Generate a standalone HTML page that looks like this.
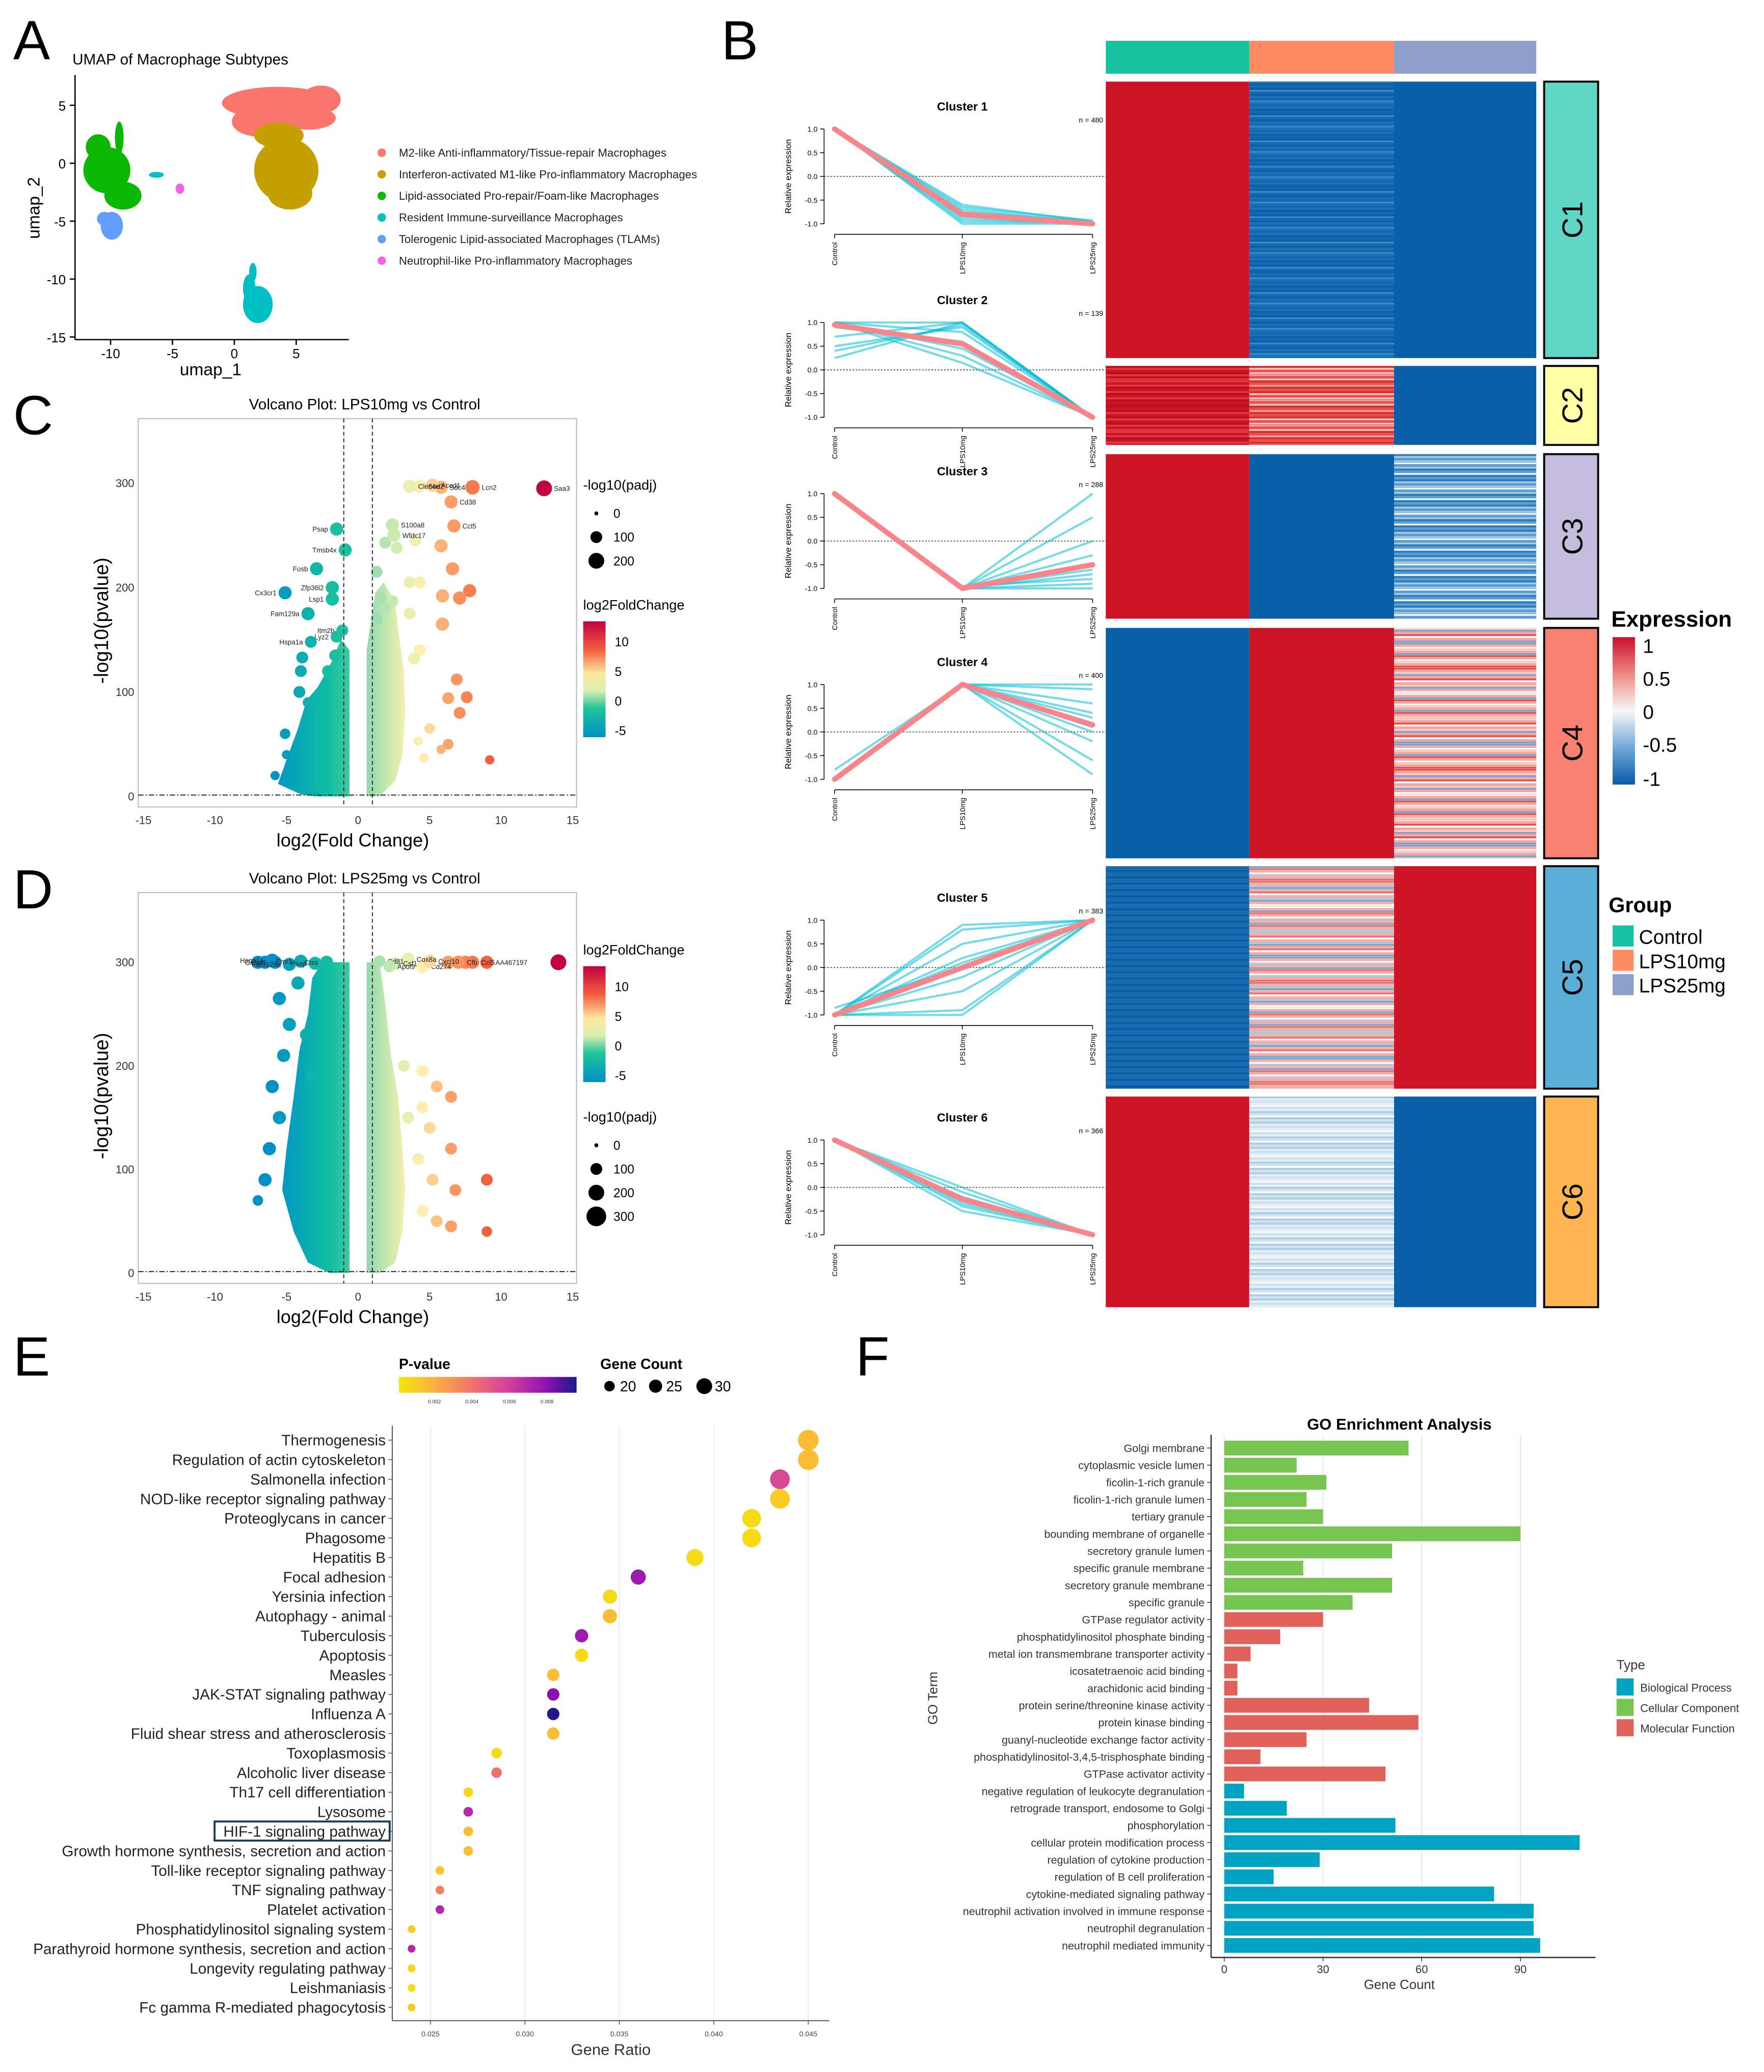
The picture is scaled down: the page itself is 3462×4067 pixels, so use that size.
<!DOCTYPE html>
<html><head><meta charset="utf-8">
<style>
body{margin:0;background:#fff}
svg{display:block}
text{font-family:"Liberation Sans",Arial,sans-serif}
</style></head>
<body>
<svg id="fig" width="3462" height="4067" viewBox="0 0 1340 1574" preserveAspectRatio="none" xmlns="http://www.w3.org/2000/svg">
<defs>
<linearGradient id="gExpr" x1="0" y1="0" x2="0" y2="1">
<stop offset="0" stop-color="#c8102e"/><stop offset="0.25" stop-color="#ee8a80"/><stop offset="0.5" stop-color="#f8f8f8"/><stop offset="0.75" stop-color="#70a8d8"/><stop offset="1" stop-color="#0a5aa8"/>
</linearGradient>
<linearGradient id="gLfc" x1="0" y1="0" x2="0" y2="1">
<stop offset="0" stop-color="#c00040"/><stop offset="0.25" stop-color="#f46040"/><stop offset="0.45" stop-color="#fde8a0"/><stop offset="0.6" stop-color="#d8f0b0"/><stop offset="0.75" stop-color="#20c49a"/><stop offset="1" stop-color="#0090c8"/>
</linearGradient>
<linearGradient id="gP" x1="0" y1="0" x2="1" y2="0">
<stop offset="0" stop-color="#f5e50a"/><stop offset="0.2" stop-color="#fbb040"/><stop offset="0.42" stop-color="#f07070"/><stop offset="0.63" stop-color="#d03ca0"/><stop offset="0.84" stop-color="#8a10b0"/><stop offset="1" stop-color="#1a1a8a"/>
</linearGradient>
</defs>
<g id="root"></g>
</svg>
<script>
// ===== DATA =====
const umapNames=['M2-like Anti-inflammatory/Tissue-repair Macrophages','Interferon-activated M1-like Pro-inflammatory Macrophages','Lipid-associated Pro-repair/Foam-like Macrophages','Resident Immune-surveillance Macrophages','Tolerogenic Lipid-associated Macrophages (TLAMs)','Neutrophil-like Pro-inflammatory Macrophages'];
const umapColors=['#f8766d','#c4a000','#0cb702','#00bfc4','#619cff','#f564e3'];
const umapBlobs=[
 [[3.5,5.2,4.5,1.4],[7,5.5,1.6,1.2],[2,3.6,2.2,1.3],[6,3.9,2.2,1.0]],
 [[4.2,-0.6,2.6,2.8],[3.6,2.4,2.0,1.1],[4.5,-2.6,1.8,1.4]],
 [[-10.3,-0.6,1.9,2.0],[-9,-2.8,1.5,1.2],[-11,1.4,1.0,1.1],[-9.3,2.2,0.35,1.4]],
 [[1.9,-12.2,1.2,1.6],[1.2,-10.8,0.5,1.2],[1.5,-9.4,0.3,0.8],[-6.3,-1.0,0.6,0.25]],
 [[-9.9,-5.4,0.9,1.2],[-10.5,-4.8,0.6,0.6]],
 [[-4.4,-2.2,0.35,0.45]]
];
const umapXTicks=[-10,-5,0,5];
const umapYTicks=[5,0,-5,-10,-15];

const lpGroups=['Control','LPS10mg','LPS25mg'];
const lpN=[480,139,288,400,383,366];
const lpMean=[[1,-0.8,-1],[0.95,0.55,-1],[1,-1,-0.5],[-1,1,0.15],[-1,0,1],[1,-0.25,-1]];
const lpLines=[
 [[1,-0.6,-0.95],[1,-0.65,-0.93],[1,-0.7,-0.97],[1,-0.75,-0.96],[1,-0.85,-1],[1,-0.9,-0.99],[1,-0.95,-0.98],[1,-1,-1]],
 [[1,1,-1],[1,0.8,-1],[0.9,0.6,-1],[0.25,1,-1],[0.5,0.9,-1],[1,0.15,-1],[1,0.3,-1],[0.7,1,-1],[1,0.45,-1],[0.4,0.95,-1]],
 [[1,-1,0],[1,-1,1],[1,-1,-0.3],[1,-1,-0.7],[1,-1,-1],[1,-1,0.5],[1,-1,-0.5],[1,-0.95,-0.8],[1,-1,-0.9],[1,-1,-0.6]],
 [[-1,1,1],[-1,1,0.6],[-1,1,0.3],[-1,1,-0.2],[-1,1,-0.6],[-0.8,1,0],[-1,1,0.9],[-1,1,-0.9],[-1,1,0.1],[-1,1,0.4]],
 [[-1,0.8,1],[-1,0.5,1],[-1,0.2,1],[-1,-0.2,1],[-1,-0.5,1],[-1,-0.9,1],[-0.85,0,1],[-1,-1,1],[-1,0.9,1],[-1,0.1,1]],
 [[1,0,-1],[1,-0.1,-1],[1,-0.3,-1],[1,-0.5,-1],[1,-0.2,-1],[1,-0.4,-1],[1,-0.35,-1]]
];
const lpTop=[98,245,375,520,699,866];

const hmRows=[[62,272],[278,338],[345,470],[477,652],[658,827],[833,993]];
const hmCells=[
 [['#cc1426'],['#1668b0','#3a8cc4','#1f72b5','#0a60a8'],['#0a60a8']],
 [['#cc1426','#e04040','#b8101e'],['#e85050','#f4a0a0','#d03030','#fcd0c8'],['#0a60a8']],
 [['#cc1426'],['#0a60a8'],['#5a9ed0','#ffffff','#2a78b8','#a8cce4']],
 [['#0a60a8'],['#cc1426'],['#f4a6a0','#ffffff','#e05050','#6aa8d8','#fbd4d0']],
 [['#0a60a8','#2070b0'],['#f4b0a8','#a8cce4','#ffffff','#e87070','#6ea8d6'],['#cc1426']],
 [['#cc1426'],['#cfe2f0','#ffffff','#a8cce4','#e8f0f8'],['#0a60a8']]
];
const hmClusterNames=['C1','C2','C3','C4','C5','C6'];
const hmClusterColors=['#5fd6c6','#ffffa6','#c4bcdc','#fa8072','#5aafd8','#ffb452'];
const groupColors=['#17c2a2','#fc8d62','#8da0cb'];

const volCLabeled=[['Saa3',13,295,6],['Lcn2',8,296,5.5],['Sdc4',5.8,296,5],['Acod1',5.2,298,5],['Sod2',4.3,297,5],['Clec4e',3.6,297,5],['Cd38',6.5,282,5],['Ccl5',6.7,259,5],['S100a8',2.4,260,5],['Wfdc17',2.5,250,5],['Psap',-1.5,256,5],['Tmsb4x',-0.9,236,5],['Fosb',-2.9,218,5],['Zfp36l2',-1.8,200,5],['Cx3cr1',-5.1,195,5],['Lsp1',-1.8,189,5],['Fam129a',-3.5,175,5],['Itm2b',-1.1,159,4.5],['Lyz2',-1.5,153,4.5],['Hspa1a',-3.3,148,4.5]];
const volCPoints=[[5.8,240,5],[4,245,4.5],[2.7,238,4.5],[1.9,243,4.5],[6.6,218,5],[7.8,197,5],[4.3,205,4.5],[3.6,205,4.5],[5.9,192,5],[7.1,190,5],[3.6,175,4.5],[5.9,165,5],[4.3,140,4.5],[3.9,132,4.5],[6.9,112,4.5],[7.6,95,4.5],[6.3,94,4.5],[7.1,80,4.5],[5,65,4],[6.3,50,4],[9.2,35,3.5],[5.8,45,3.5],[4.6,37,3.5],[4.2,53,3.5],[-3.9,133,4.5],[-4,120,4.5],[-4.1,100,4.5],[-3.5,90,4],[-5.1,60,4],[-5,40,3.5],[-5.8,20,3.5],[-4.4,40,3.5],[-2.1,120,4.5],[-1.6,135,4.5],[1.3,170,4.5],[1.6,190,4.5],[1.3,215,4.5],[2.4,187,4.5],[1.9,180,4.5]];
const volCLeft=[[-0.6,0],[-0.6,140],[-1.2,150],[-1.8,130],[-2.8,105],[-3.6,92],[-4.2,65],[-5,35],[-5.6,12],[-4,2],[-3,0]];
const volCRight=[[0.6,0],[0.6,140],[1.2,195],[1.8,205],[2.6,185],[2.8,160],[3.2,120],[3.3,80],[3.1,40],[2.6,15],[1.5,0]];
const volDLabeled=[['AA467197',9,300,5],['Ccl5',8,300,5],['Cfb',7,300,5],['Cd274',4.5,296,5],['Cxcl10',5,301,5],['Cox8a',3.5,303,5],['Csf1',2.6,299,4.5],['Cd81',1.5,301,4.5],['Apol9',2.2,296,4.5],['Cx3cr1',-5.8,300,5],['Hspa1a',-6,302,5],['Fam129a',-4.8,298,5],['Emr1',-4,301,5],['Psap',-3,299,5],['Ctss',-2.2,300,5]];
const volDPoints=[[14,300,6],[7.5,300,5],[6.3,300,5],[3.2,200,4.5],[4.5,195,4.5],[5.5,180,4.5],[6.5,170,4.5],[4.5,160,4.5],[3.5,150,4.5],[5,140,4.5],[6.5,120,4.5],[4.2,110,4.5],[9,90,4.5],[5.2,90,4.5],[6.8,80,4.5],[4.5,60,4.5],[5.5,50,4.5],[6.5,45,4.5],[9,40,4],[-7,70,4],[-6.5,90,5],[-6.2,120,5],[-5.5,150,5],[-6,180,5],[-5.2,210,5],[-4.8,240,5],[-5.5,265,5],[-4.2,280,5],[-3.6,230,5],[-3.2,190,5],[-7,300,5],[-6.5,300,5]];
const volDLeft=[[-0.6,0],[-0.6,300],[-1.5,300],[-2.5,300],[-3.2,285],[-3.5,250],[-4.1,215],[-4.5,170],[-5,120],[-5.3,80],[-4.5,40],[-3.5,10],[-2,0]];
const volDRight=[[0.6,0],[0.6,300],[1.5,300],[1.9,260],[2.3,210],[2.8,170],[3.1,120],[3.3,80],[3.1,40],[2.6,10],[1.5,0]];
const volXTicks=[-15,-10,-5,0,5,10,15];
const volYTicks=[0,100,200,300];

const keggTerms=['Thermogenesis','Regulation of actin cytoskeleton','Salmonella infection','NOD-like receptor signaling pathway','Proteoglycans in cancer','Phagosome','Hepatitis B','Focal adhesion','Yersinia infection','Autophagy - animal','Tuberculosis','Apoptosis','Measles','JAK-STAT signaling pathway','Influenza A','Fluid shear stress and atherosclerosis','Toxoplasmosis','Alcoholic liver disease','Th17 cell differentiation','Lysosome','HIF-1 signaling pathway','Growth hormone synthesis, secretion and action','Toll-like receptor signaling pathway','TNF signaling pathway','Platelet activation','Phosphatidylinositol signaling system','Parathyroid hormone synthesis, secretion and action','Longevity regulating pathway','Leishmaniasis','Fc gamma R-mediated phagocytosis'];
const keggRatio=[0.045,0.045,0.0435,0.0435,0.042,0.042,0.039,0.036,0.0345,0.0345,0.033,0.033,0.0315,0.0315,0.0315,0.0315,0.0285,0.0285,0.027,0.027,0.027,0.027,0.0255,0.0255,0.0255,0.024,0.024,0.024,0.024,0.024];
const keggP=[0.0015,0.0015,0.0055,0.001,0.0004,0.0004,0.0004,0.0075,0.0004,0.0015,0.0075,0.0004,0.0015,0.008,0.0095,0.0015,0.0004,0.004,0.0006,0.0068,0.0015,0.0015,0.0012,0.0035,0.0068,0.001,0.0068,0.0006,0.0004,0.001];
const keggCount=[31,31,30,30,29,29,27,25,24,24,23,23,22,22,22,22,20,20,19,19,19,19,18,18,18,17,17,17,17,17];
const keggXTicks=[0.025,0.030,0.035,0.040,0.045];

const goTerms=['Golgi membrane','cytoplasmic vesicle lumen','ficolin-1-rich granule','ficolin-1-rich granule lumen','tertiary granule','bounding membrane of organelle','secretory granule lumen','specific granule membrane','secretory granule membrane','specific granule','GTPase regulator activity','phosphatidylinositol phosphate binding','metal ion transmembrane transporter activity','icosatetraenoic acid binding','arachidonic acid binding','protein serine/threonine kinase activity','protein kinase binding','guanyl-nucleotide exchange factor activity','phosphatidylinositol-3,4,5-trisphosphate binding','GTPase activator activity','negative regulation of leukocyte degranulation','retrograde transport, endosome to Golgi','phosphorylation','cellular protein modification process','regulation of cytokine production','regulation of B cell proliferation','cytokine-mediated signaling pathway','neutrophil activation involved in immune response','neutrophil degranulation','neutrophil mediated immunity'];
const goCounts=[56,22,31,25,30,90,51,24,51,39,30,17,8,4,4,44,59,25,11,49,6,19,52,108,29,15,82,94,94,96];
const goType=['CC','CC','CC','CC','CC','CC','CC','CC','CC','CC','MF','MF','MF','MF','MF','MF','MF','MF','MF','MF','BP','BP','BP','BP','BP','BP','BP','BP','BP','BP'];
const goXTicks=[0,30,60,90];

// ===== DRAW =====
const NS='http://www.w3.org/2000/svg';
const root=document.getElementById('root');
function mk(tag,attrs,parent){const e=document.createElementNS(NS,tag);for(const k in attrs)e.setAttribute(k,attrs[k]);(parent||root).appendChild(e);return e;}
function tx(x,y,s,size,opts,parent){const o=Object.assign({x:x,y:y,'font-size':size,fill:'#000'},opts||{});const e=mk('text',o,parent);e.textContent=s;return e;}
function grp(parent){return mk('g',{},parent);}

const letters=[['A',10,45],['B',548,45],['C',10,330],['D',10,690],['E',10,1045],['F',650,1045]];
letters.forEach(function(l){const e=tx(l[1],l[2],l[0],42,{});

});

// ---- Panel A ----
(function(){
const g=grp();


const X=u=>178+9.4*u, Y=v=>124-8.8*v;
let t=tx(55,49,'UMAP of Macrophage Subtypes',11.5,{},g);


mk('line',{x1:57,y1:57,x2:57,y2:258,stroke:'#000','stroke-width':1},g);
mk('line',{x1:57,y1:258,x2:265,y2:258,stroke:'#000','stroke-width':1},g);
umapXTicks.forEach(v=>{mk('line',{x1:X(v),y1:258,x2:X(v),y2:262,stroke:'#000'},g);
 const e=tx(X(v),272,String(v),10,{'text-anchor':'middle'},g);
 
 });
umapYTicks.forEach(v=>{mk('line',{x1:53,y1:Y(v),x2:57,y2:Y(v),stroke:'#000'},g);
 const e=tx(50,Y(v)+4,String(v),10,{'text-anchor':'end'},g);
 
 });
t=tx(160,285,'umap_1',13,{'text-anchor':'middle'},g);


t=tx(30,158,'umap_2',13,{'text-anchor':'middle',transform:'rotate(-90 30 158)'},g);


umapBlobs.forEach((bl,i)=>{bl.forEach(b=>{
 const e=mk('ellipse',{cx:X(b[0]),cy:Y(b[1]),rx:b[2]*9.4,ry:b[3]*8.8,fill:umapColors[i]},g);
 
 });});
umapNames.forEach((n,i)=>{const y=116+i*16.4;
 const c=mk('circle',{cx:290,cy:y,r:3.2,fill:umapColors[i]},g);
 
 
 const e=tx(303,y+3,n,8.6,{fill:'#222'},g);
 
 });
})();

// ---- Panel B trend plots ----
(function(){
const g=grp();


const gx=[634,731,830];
lpMean.forEach((m,ci)=>{
 const top=lpTop[ci], Y=v=>top+(1-v)*36;
 const pg=grp(g);
 
 
 let e=tx(731,top-14,'Cluster '+(ci+1),9,{'text-anchor':'middle','font-weight':'bold'},pg);
 
 
 e=tx(838,top-5,'n = '+lpN[ci],5.5,{'text-anchor':'end'},pg);
 
 
 mk('line',{x1:626,y1:Y(1),x2:626,y2:Y(-1),stroke:'#000','stroke-width':0.6},pg);
 [1,0.5,0,-0.5,-1].forEach(v=>{mk('line',{x1:623,y1:Y(v),x2:626,y2:Y(v),stroke:'#000','stroke-width':0.6},pg);
  const l=tx(621,Y(v)+2,v.toFixed(1),5.5,{'text-anchor':'end'},pg);
  
  });
 e=tx(601,Y(0),'Relative expression',6.5,{'text-anchor':'middle',transform:'rotate(-90 601 '+Y(0)+')'},pg);
 
 
 mk('line',{x1:634,y1:Y(-1)+8,x2:830,y2:Y(-1)+8,stroke:'#000','stroke-width':0.6},pg);
 gx.forEach((x,k)=>{mk('line',{x1:x,y1:Y(-1)+8,x2:x,y2:Y(-1)+11,stroke:'#000','stroke-width':0.6},pg);
  const yy=Y(-1)+14;
  const l=tx(x+2,yy,lpGroups[k],5.5,{'text-anchor':'end',transform:'rotate(-90 '+(x+2)+' '+yy+')'},pg);
  
  });
 mk('line',{x1:626,y1:Y(0),x2:840,y2:Y(0),stroke:'#333','stroke-width':0.6,'stroke-dasharray':'1.2 1.2'},pg);
 lpLines[ci].forEach(L=>{const p=mk('polyline',{points:L.map((v,k)=>gx[k]+','+Y(v)).join(' '),fill:'none',stroke:'#00bcd4','stroke-width':1.6,'stroke-opacity':0.55},pg);
  
  });
 const p=mk('polyline',{points:m.map((v,k)=>gx[k]+','+Y(v)).join(' '),fill:'none',stroke:'#f9848a','stroke-width':4,'stroke-linecap':'round','stroke-linejoin':'round'},pg);
 
 
});
})();

// ---- Heatmap ----
(function(){
const g=grp();


const cols=[[840,948],[949,1058],[1059,1167]];
cols.forEach((c,k)=>{const r=mk('rect',{x:c[0],y:31,width:c[1]-c[0]+(k<2?1:0),height:25,fill:groupColors[k]},g);
 
 });
hmRows.forEach((row,ri)=>{
 cols.forEach((c,k)=>{const cell=hmCells[ri][k];
  const w=c[1]-c[0]+(k<2?1:0);
  const r=mk('rect',{x:c[0],y:row[0],width:w,height:row[1]-row[0],fill:cell[0]},g);
  
  
  if(cell.length>1){let n=0;for(let y=row[0];y<row[1]-1;y+=1.6){n++;
   if((n*5)%3===0)continue;
   const col=cell[1+((n*7+(n>>2))%(cell.length-1))];
   mk('rect',{x:c[0],y:y,width:w,height:1.2,fill:col},g);}}
 });
 const b=mk('rect',{x:1173,y:row[0],width:41,height:row[1]-row[0],fill:hmClusterColors[ri],stroke:'#000','stroke-width':1.5},g);
 
 
 const cy=(row[0]+row[1])/2;
 const t=tx(1202,cy,hmClusterNames[ri],22,{'text-anchor':'middle',transform:'rotate(-90 1202 '+cy+')'},g);
 
 
});
let t=tx(1224,476,'Expression',17,{'font-weight':'bold'},g);


const gb=mk('rect',{x:1225,y:484,width:17,height:112,fill:'url(#gExpr)'},g);


[['1',491],['0.5',516],['0',541],['-0.5',566],['-1',592]].forEach(a=>{const e=tx(1248,a[1]+5,a[0],15,{},g);
 
 });
t=tx(1222,693,'Group',16,{'font-weight':'bold'},g);


lpGroups.forEach((n,k)=>{const y=703+k*18.5;
 const r=mk('rect',{x:1225,y:y,width:16,height:16,fill:groupColors[k]},g);
 
 
 const e=tx(1245,y+14,n,15,{},g);
 
 });
})();

// ---- Volcano ----
function lfcColor(v){const st=[[-6,[0,144,200]],[-3,[16,184,168]],[-0.5,[32,196,154]],[1,[150,218,176]],[3,[220,240,176]],[4.5,[255,238,176]],[6,[253,170,110]],[9,[244,96,64]],[13,[192,0,64]]];
 if(v<=st[0][0])return 'rgb('+st[0][1].join(',')+')';
 for(let i=1;i<st.length;i++){if(v<=st[i][0]){const a=st[i-1],b=st[i],f=(v-a[0])/(b[0]-a[0]);return 'rgb('+a[1].map((c,j)=>Math.round(c+(b[1][j]-c)*f)).join(',')+')';}}
 return 'rgb('+st[st.length-1][1].join(',')+')';}
function volcano(name,title,top,y0,y300,labeled,pts,left,right,lgTop1,lgTop2,sizes){
 const g=grp();
 
 
 const X=v=>272+v*10.87, Y=v=>y0-v*(y0-y300)/300;
 let t=tx(277,top-7,title,11.5,{'text-anchor':'middle'},g);
 
 
 const fr=mk('rect',{x:105,y:top,width:333,height:y0-top+8,fill:'#fff',stroke:'#bbb','stroke-width':0.8},g);
 
 
 const lg=mk('linearGradient',{id:name+'gl',x1:0,y1:0,x2:1,y2:0},g);
 mk('stop',{offset:0,'stop-color':'#0098c4'},lg);mk('stop',{offset:0.7,'stop-color':'#10bea2'},lg);mk('stop',{offset:1,'stop-color':'#40c8a0'},lg);
 const rg=mk('linearGradient',{id:name+'gr',x1:0,y1:0,x2:1,y2:0},g);
 mk('stop',{offset:0,'stop-color':'#90d8b0'},rg);mk('stop',{offset:0.6,'stop-color':'#cdeab0'},rg);mk('stop',{offset:1,'stop-color':'#f4f0b0'},rg);
 let p=mk('polygon',{points:left.map(a=>X(a[0])+','+Y(a[1])).join(' '),fill:'url(#'+name+'gl)'},g);
 
 
 p=mk('polygon',{points:right.map(a=>X(a[0])+','+Y(a[1])).join(' '),fill:'url(#'+name+'gr)'},g);
 
 
 pts.forEach(a=>{const c=mk('circle',{cx:X(a[0]),cy:Y(a[1]),r:a[2],fill:lfcColor(a[0])},g);
  
  });
 labeled.forEach(a=>{const c=mk('circle',{cx:X(a[1]),cy:Y(a[2]),r:a[3],fill:lfcColor(a[1])},g);
  
  
  const rightSide=a[1]>0;
  const e=tx(X(a[1])+(rightSide?a[3]+1.5:-a[3]-1.5),Y(a[2])+2,a[0],5.2,{'text-anchor':rightSide?'start':'end',fill:'#222'},g);
  
  });
 mk('line',{x1:X(-1),y1:top,x2:X(-1),y2:y0+8,stroke:'#333','stroke-width':0.8,'stroke-dasharray':'3 2'},g);
 mk('line',{x1:X(1),y1:top,x2:X(1),y2:y0+8,stroke:'#333','stroke-width':0.8,'stroke-dasharray':'3 2'},g);
 mk('line',{x1:105,y1:Y(1.3),x2:438,y2:Y(1.3),stroke:'#333','stroke-width':0.8,'stroke-dasharray':'4 1.5 1 1.5'},g);
 volXTicks.forEach(v=>{const e=tx(X(v),y0+21,String(v),8.5,{'text-anchor':'middle',fill:'#333'},g);
  
  });
 volYTicks.forEach(v=>{const e=tx(102,Y(v)+3,String(v),8.5,{'text-anchor':'end',fill:'#333'},g);
  
  });
 t=tx(268,y0+38,'log2(Fold Change)',14,{'text-anchor':'middle'},g);
 
 
 const my=(top+y0)/2+10;
 t=tx(82,my,'-log10(pvalue)',15,{'text-anchor':'middle',transform:'rotate(-90 82 '+my+')'},g);
 
 
 t=tx(443,lgTop1,'-log10(padj)',10.5,{},g);
 
 
 sizes.forEach((s,k)=>{const y=lgTop1+18+k*18;
  const c=mk('circle',{cx:453,cy:y,r:s[1],fill:'#000'},g);
  
  
  const e=tx(466,y+3.5,s[0],9.5,{},g);
  
  });
 t=tx(443,lgTop2,'log2FoldChange',10.5,{},g);
 
 
 const cb=mk('rect',{x:443,y:lgTop2+9,width:17,height:88,fill:'url(#gLfc)'},g);
 
 
 ['10','5','0','-5'].forEach((s,k)=>{const e=tx(467,lgTop2+28+k*22.5,s,9.5,{},g);
  
  });
}
volcano('volcano-lps10','Volcano Plot: LPS10mg vs Control',318,605,367,volCLabeled,volCPoints,volCLeft,volCRight,372,463,[['0',1.5],['100',4.5],['200',6]]);
volcano('volcano-lps25','Volcano Plot: LPS25mg vs Control',678,967,731,volDLabeled,volDPoints,volDLeft,volDRight,852,725,[['0',1.5],['100',4.5],['200',6],['300',7.5]]);

// ---- Panel E KEGG ----
(function(){
const g=grp();


const X=r=>327+(r-0.025)*14350, Y=i=>1094+i*14.86;
function pColor(p){const st=[[0,[245,229,10]],[0.002,[251,176,64]],[0.004,[240,112,112]],[0.006,[208,60,160]],[0.008,[138,16,176]],[0.0096,[26,26,138]]];
 for(let i=1;i<st.length;i++){if(p<=st[i][0]){const a=st[i-1],b=st[i],f=(p-a[0])/(b[0]-a[0]);return 'rgb('+a[1].map((c,j)=>Math.round(c+(b[1][j]-c)*f)).join(',')+')';}}
 return 'rgb(26,26,138)';}
keggXTicks.forEach(v=>{mk('line',{x1:X(v),y1:1083,x2:X(v),y2:1535,stroke:'#eee','stroke-width':0.8},g);
 mk('line',{x1:X(v),y1:1535,x2:X(v),y2:1538,stroke:'#555','stroke-width':0.6},g);
 const e=tx(X(v),1547,v.toFixed(3),5.5,{'text-anchor':'middle',fill:'#444'},g);
 
 });
mk('line',{x1:298,y1:1083,x2:298,y2:1535,stroke:'#555','stroke-width':0.8},g);
mk('line',{x1:298,y1:1535,x2:630,y2:1535,stroke:'#555','stroke-width':0.8},g);
keggTerms.forEach((term,i)=>{
 mk('line',{x1:295,y1:Y(i),x2:298,y2:Y(i),stroke:'#555','stroke-width':0.6},g);
 const e=tx(293,Y(i)+4,term,11.5,{'text-anchor':'end',fill:'#222'},g);
 
 
 const c=mk('circle',{cx:X(keggRatio[i]),cy:Y(i),r:4+(keggCount[i]-20)*0.35,fill:pColor(keggP[i])},g);
 
 
});
const hb=mk('rect',{x:163,y:Y(20)-7.5,width:133,height:14.5,fill:'none',stroke:'#1a3a5a','stroke-width':1.5},g);


let t=tx(464,1561,'Gene Ratio',12,{'text-anchor':'middle',fill:'#333'},g);


t=tx(303,1040,'P-value',11,{'font-weight':'bold'},g);


const pb=mk('rect',{x:303,y:1046,width:135,height:12,fill:'url(#gP)'},g);


['0.002','0.004','0.006','0.008'].forEach((s,k)=>{const e=tx(330+k*28.5,1066,s,4,{'text-anchor':'middle',fill:'#333'},g);
 
 });
t=tx(456,1040,'Gene Count',11,{'font-weight':'bold'},g);


[['20',463,4],['25',498,5],['30',535,6]].forEach(a=>{const c=mk('circle',{cx:a[1],cy:1053,r:a[2],fill:'#000'},g);
 
 
 const e=tx(a[1]+8,1057,a[0],11,{},g);
 
 });
})();

// ---- Panel F GO ----
(function(){
const g=grp();


const typeColor={BP:'#00a3c4',CC:'#78c450',MF:'#e0605a'};
const X=c=>930+c*2.5, Y=i=>1100+i*13.03;
goXTicks.forEach(v=>{mk('line',{x1:X(v),y1:1090,x2:X(v),y2:1487,stroke:'#e8e8e8','stroke-width':0.8},g);
 mk('line',{x1:X(v),y1:1487,x2:X(v),y2:1490,stroke:'#333','stroke-width':0.6},g);
 const e=tx(X(v),1499,String(v),8.5,{'text-anchor':'middle',fill:'#333'},g);
 
 });
goTerms.forEach((term,i)=>{
 const r=mk('rect',{x:X(0),y:Y(i)-5.6,width:goCounts[i]*2.5,height:11.2,fill:typeColor[goType[i]]},g);
 
 
 mk('line',{x1:917,y1:Y(i),x2:920,y2:Y(i),stroke:'#333','stroke-width':0.6},g);
 const e=tx(915,Y(i)+3,term,8.3,{'text-anchor':'end',fill:'#333'},g);
 
 
});
mk('line',{x1:920,y1:1090,x2:920,y2:1487,stroke:'#333','stroke-width':1},g);
mk('line',{x1:920,y1:1487,x2:1212,y2:1487,stroke:'#333','stroke-width':1},g);
let t=tx(1063,1086,'GO Enrichment Analysis',12,{'text-anchor':'middle','font-weight':'bold'},g);


t=tx(1063,1511,'Gene Count',10,{'text-anchor':'middle',fill:'#333'},g);


t=tx(712,1290,'GO Term',10,{'text-anchor':'middle',fill:'#333',transform:'rotate(-90 712 1290)'},g);


t=tx(1228,1268,'Type',10,{fill:'#333'},g);


[['Biological Process','BP'],['Cellular Component','CC'],['Molecular Function','MF']].forEach((a,k)=>{const y=1275+k*15.5;
 const r=mk('rect',{x:1228,y:y,width:13,height:13,fill:typeColor[a[1]]},g);
 
 
 const e=tx(1246,y+10,a[0],8.5,{fill:'#333'},g);
 
 });
})();
</script>
</body></html>
